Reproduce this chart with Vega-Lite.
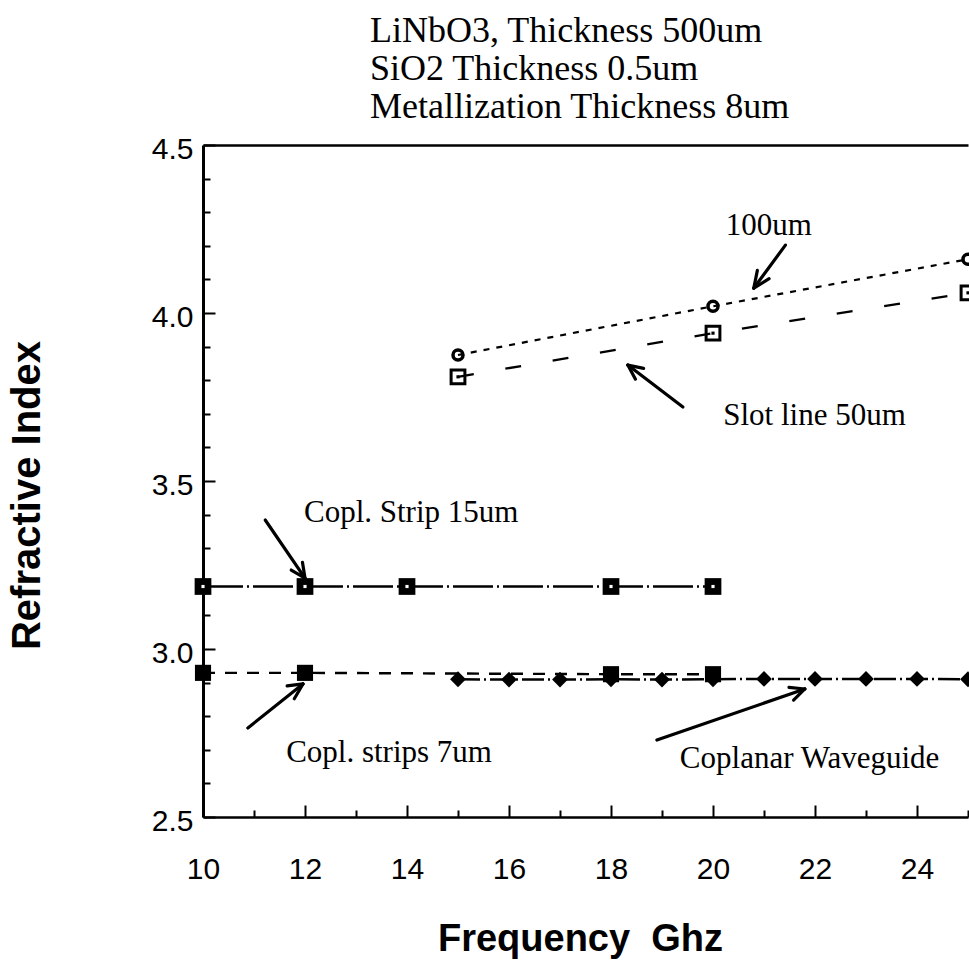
{
  "$schema": "https://vega.github.io/schema/vega-lite/v6.json",
  "width": 765,
  "height": 672,
  "autosize": "none",
  "padding": {"left": 203, "top": 145, "right": 1, "bottom": 146},
  "background": "white",
  "config": {"view": {"stroke": null}},
  "title": {
    "text": ["LiNbO3, Thickness 500um", "SiO2 Thickness 0.5um", "Metallization Thickness 8um"],
    "anchor": "start",
    "frame": "group",
    "dx": 167,
    "offset": -28,
    "baseline": "bottom",
    "lineHeight": 38,
    "font": "Liberation Serif",
    "fontSize": 36,
    "fontWeight": "normal",
    "color": "black"
  },
  "datasets": {
    "series": [
      {"s": "100um", "x": 15, "y": 3.875},
      {"s": "100um", "x": 20, "y": 4.02},
      {"s": "100um", "x": 25, "y": 4.16},
      {"s": "Slot line 50um", "x": 15, "y": 3.81},
      {"s": "Slot line 50um", "x": 20, "y": 3.94},
      {"s": "Slot line 50um", "x": 25, "y": 4.06},
      {"s": "Copl. Strip 15um", "x": 10, "y": 3.186},
      {"s": "Copl. Strip 15um", "x": 12, "y": 3.186},
      {"s": "Copl. Strip 15um", "x": 14, "y": 3.186},
      {"s": "Copl. Strip 15um", "x": 18, "y": 3.186},
      {"s": "Copl. Strip 15um", "x": 20, "y": 3.186},
      {"s": "Copl. strips 7um", "x": 10, "y": 2.929},
      {"s": "Copl. strips 7um", "x": 12, "y": 2.929},
      {"s": "Copl. strips 7um", "x": 18, "y": 2.925},
      {"s": "Copl. strips 7um", "x": 20, "y": 2.925},
      {"s": "Coplanar Waveguide", "x": 15, "y": 2.91},
      {"s": "Coplanar Waveguide", "x": 16, "y": 2.909},
      {"s": "Coplanar Waveguide", "x": 17, "y": 2.909},
      {"s": "Coplanar Waveguide", "x": 18, "y": 2.91},
      {"s": "Coplanar Waveguide", "x": 19, "y": 2.909},
      {"s": "Coplanar Waveguide", "x": 20, "y": 2.91},
      {"s": "Coplanar Waveguide", "x": 21, "y": 2.911},
      {"s": "Coplanar Waveguide", "x": 22, "y": 2.911},
      {"s": "Coplanar Waveguide", "x": 23, "y": 2.911},
      {"s": "Coplanar Waveguide", "x": 24, "y": 2.911},
      {"s": "Coplanar Waveguide", "x": 25, "y": 2.91}
    ],
    "labels": [
      {"t": "100um", "x": 20.25, "y": 4.232},
      {"t": "Slot line 50um", "x": 20.2, "y": 3.667},
      {"t": "Copl. Strip 15um", "x": 11.98, "y": 3.378},
      {"t": "Copl. strips 7um", "x": 11.63, "y": 2.664},
      {"t": "Coplanar Waveguide", "x": 19.35, "y": 2.646}
    ],
    "arrows": [
      {"x": 21.42, "y": 4.202, "x2": 20.8, "y2": 4.074},
      {"x": 21.1, "y": 4.102, "x2": 20.8, "y2": 4.074},
      {"x": 20.87, "y": 4.127, "x2": 20.8, "y2": 4.074},
      {"x": 19.41, "y": 3.72, "x2": 18.33, "y2": 3.845},
      {"x": 18.48, "y": 3.803, "x2": 18.33, "y2": 3.845},
      {"x": 18.64, "y": 3.835, "x2": 18.33, "y2": 3.845},
      {"x": 11.22, "y": 3.384, "x2": 12.0, "y2": 3.211},
      {"x": 11.95, "y": 3.258, "x2": 12.0, "y2": 3.211},
      {"x": 11.73, "y": 3.235, "x2": 12.0, "y2": 3.211},
      {"x": 10.88, "y": 2.765, "x2": 11.96, "y2": 2.896},
      {"x": 11.65, "y": 2.89, "x2": 11.96, "y2": 2.896},
      {"x": 11.79, "y": 2.852, "x2": 11.96, "y2": 2.896},
      {"x": 18.9, "y": 2.729, "x2": 21.8, "y2": 2.881},
      {"x": 21.49, "y": 2.886, "x2": 21.8, "y2": 2.881},
      {"x": 21.58, "y": 2.848, "x2": 21.8, "y2": 2.881}
    ]
  },
  "resolve": {"axis": {"x": "independent"}},
  "layer": [
    {
      "data": {"name": "series"},
      "mark": {"type": "line", "color": "black"},
      "encoding": {
        "x": {
          "field": "x", "type": "quantitative",
          "scale": {"domain": [10, 25], "nice": false, "zero": false},
          "axis": {
            "orient": "bottom",
            "values": [10, 11, 12, 13, 14, 15, 16, 17, 18, 19, 20, 21, 22, 23, 24, 25],
            "tickCount": 40,
            "format": "d",
            "labelExpr": "datum.value % 2 == 0 ? format(datum.value, 'd') : ''",
            "tickSize": {"condition": {"test": "datum.value % 2 == 0", "value": -12}, "value": -7},
            "tickColor": "black", "tickWidth": 2,
            "domainColor": "black", "domainWidth": 2.5,
            "grid": false,
            "labelFont": "Liberation Sans", "labelFontSize": 30, "labelColor": "black",
            "labelPadding": 49, "labelBaseline": "top", "labelFlush": false, "labelOverlap": false,
            "title": "Frequency\u00a0 Ghz",
            "titleFont": "Liberation Sans", "titleFontSize": 38, "titleFontWeight": "bold", "titleColor": "black",
            "titleX": 377, "titleY": 133, "titleBaseline": "alphabetic", "titleAlign": "center"
          }
        },
        "y": {
          "field": "y", "type": "quantitative",
          "scale": {"domain": [2.5, 4.5], "nice": false, "zero": false},
          "axis": {
            "values": [2.5, 2.6, 2.7, 2.8, 2.9, 3.0, 3.1, 3.2, 3.3, 3.4, 3.5, 3.6, 3.7, 3.8, 3.9, 4.0, 4.1, 4.2, 4.3, 4.4, 4.5],
            "tickCount": 40,
            "labelExpr": "round(datum.value * 10) % 5 == 0 ? format(datum.value, '.1f') : ''",
            "tickSize": {"condition": {"test": "round(datum.value * 10) % 5 == 0", "value": -12}, "value": -7},
            "tickColor": "black", "tickWidth": 2,
            "domainColor": "black", "domainWidth": 3,
            "grid": false,
            "labelFont": "Liberation Sans", "labelFontSize": 30, "labelColor": "black",
            "labelPadding": 22, "labelFlush": false, "labelOverlap": false, "labelOffset": 4,
            "title": "Refractive Index",
            "titleFont": "Liberation Sans", "titleFontSize": 40, "titleFontWeight": "bold", "titleColor": "black",
            "titleX": -176, "titleY": 350, "titleAngle": -90, "titleBaseline": "middle", "titleAlign": "center"
          }
        },
        "detail": {"field": "s"},
        "strokeDash": {
          "field": "s", "type": "nominal", "legend": null,
          "scale": {
            "domain": ["100um", "Slot line 50um", "Copl. Strip 15um", "Copl. strips 7um", "Coplanar Waveguide"],
            "range": [[6, 7], [16, 32], [40, 4, 2, 4], [12, 10], [22, 4, 2, 4]]
          }
        },
        "strokeWidth": {
          "field": "s", "type": "nominal", "legend": null,
          "scale": {
            "domain": ["100um", "Slot line 50um", "Copl. Strip 15um", "Copl. strips 7um", "Coplanar Waveguide"],
            "range": [2.2, 2.5, 1.3, 2, 1.6]
          }
        }
      }
    },
    {
      "data": {"name": "series"},
      "transform": [{"filter": {"field": "s", "equal": "100um"}}],
      "mark": {"type": "point", "shape": "circle", "filled": false, "color": "black", "strokeWidth": 3.5, "size": 100, "opacity": 1},
      "encoding": {
        "x": {"field": "x", "type": "quantitative", "axis": null},
        "y": {"field": "y", "type": "quantitative"}
      }
    },
    {
      "data": {"name": "series"},
      "transform": [{"filter": {"field": "s", "equal": "Slot line 50um"}}],
      "mark": {"type": "point", "shape": "square", "filled": false, "color": "black", "strokeWidth": 3, "size": 190, "opacity": 1},
      "encoding": {
        "x": {"field": "x", "type": "quantitative", "axis": null},
        "y": {"field": "y", "type": "quantitative"}
      }
    },
    {
      "data": {"name": "series"},
      "transform": [{"filter": {"field": "s", "equal": "Copl. Strip 15um"}}],
      "mark": {"type": "point", "shape": "square", "filled": true, "color": "black", "size": 280, "opacity": 1},
      "encoding": {
        "x": {"field": "x", "type": "quantitative", "axis": null},
        "y": {"field": "y", "type": "quantitative"}
      }
    },
    {
      "data": {"name": "series"},
      "transform": [{"filter": {"field": "s", "equal": "Copl. strips 7um"}}],
      "mark": {"type": "point", "shape": "square", "filled": true, "color": "black", "size": 260, "opacity": 1},
      "encoding": {
        "x": {"field": "x", "type": "quantitative", "axis": null},
        "y": {"field": "y", "type": "quantitative"}
      }
    },
    {
      "data": {"name": "series"},
      "transform": [{"filter": {"field": "s", "equal": "Coplanar Waveguide"}}],
      "mark": {"type": "point", "shape": "diamond", "filled": true, "color": "black", "size": 250, "opacity": 1},
      "encoding": {
        "x": {"field": "x", "type": "quantitative", "axis": null},
        "y": {"field": "y", "type": "quantitative"}
      }
    },
    {
      "data": {"name": "series"},
      "transform": [{"filter": {"field": "s", "equal": "Slot line 50um"}}],
      "mark": {"type": "point", "filled": true, "color": "black", "shape": "square", "size": 10, "opacity": 1},
      "encoding": {
        "x": {"field": "x", "type": "quantitative", "axis": null},
        "y": {"field": "y", "type": "quantitative"}
      }
    },
    {
      "data": {"name": "series"},
      "transform": [{"filter": {"field": "s", "equal": "Copl. Strip 15um"}}],
      "mark": {"type": "point", "filled": true, "color": "white", "shape": "square", "size": 10, "opacity": 1},
      "encoding": {
        "x": {"field": "x", "type": "quantitative", "axis": null},
        "y": {"field": "y", "type": "quantitative"}
      }
    },
    {
      "data": {"name": "labels"},
      "mark": {"type": "text", "font": "Liberation Serif", "fontSize": 31, "align": "left", "baseline": "alphabetic", "color": "black"},
      "encoding": {
        "x": {"field": "x", "type": "quantitative", "axis": null},
        "y": {"field": "y", "type": "quantitative"},
        "text": {"field": "t"}
      }
    },
    {
      "data": {"name": "arrows"},
      "mark": {"type": "rule", "color": "black", "strokeWidth": 3.2, "strokeCap": "round"},
      "encoding": {
        "x": {
          "field": "x", "type": "quantitative",
          "axis": {"orient": "top", "labels": false, "ticks": false, "grid": false, "title": null, "domainColor": "black", "domainWidth": 2.5}
        },
        "y": {"field": "y", "type": "quantitative"},
        "x2": {"field": "x2"},
        "y2": {"field": "y2"}
      }
    }
  ]
}
